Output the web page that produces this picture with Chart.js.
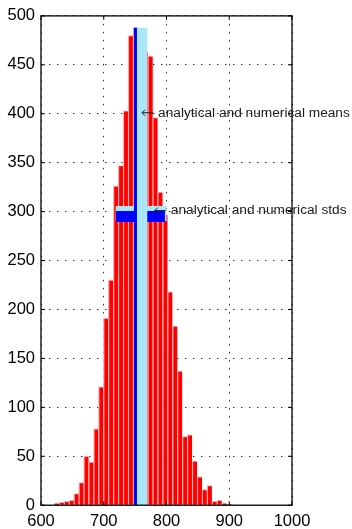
<!DOCTYPE html>
<html>
<head>
<meta charset="utf-8">
<script src="https://cdn.jsdelivr.net/npm/chart.js@4.4.0/dist/chart.umd.min.js"></script>
<style>
  html, body { margin: 0; padding: 0; background: #fff; overflow: hidden; }
  canvas { display: block; }
</style>
</head>
<body>
<canvas id="grafica" width="352" height="537"></canvas>
<script>
// histogram bins (centers) and counts
const binCenters = [624.8, 632.7, 640.5, 648.4, 656.2, 664.1, 671.9, 679.8, 687.7, 695.5,
  703.4, 711.2, 719.1, 726.9, 734.8, 742.7, 750.5, 758.4, 766.2, 774.1,
  781.9, 789.8, 797.7, 805.5, 813.4, 821.2, 829.1, 836.9, 844.8, 852.7,
  860.5, 868.4, 876.2, 884.1, 891.9, 899.8];
const counts = [2, 3, 4, 5, 12, 23, 50, 44, 78, 121,
  191, 230, 326, 347, 403, 480, 488, 478, 463, 459,
  396, 320, 297, 218, 183, 137, 70, 72, 45, 29,
  16, 20, 4, 5, 2, 1];

const xTicks = [600, 700, 800, 900, 1000];
const yTicks = [0, 50, 100, 150, 200, 250, 300, 350, 400, 450, 500];

const analyticalMean = 759.5;
const analyticalStd = 40.5;
const analyticalStdLevel = 298;
const numericalMean = 750.5;
const numericalStdSpan = [719.5, 797.5];
const numericalStdLevel = 295;
const meanTop = Math.max(...counts);

const labelMeans = "analytical and numerical means";
const labelStds = "analytical and numerical stds";
const labelMeansAt = [analyticalMean, 400];
const labelStdsAt = [analyticalMean + analyticalStd / 2, 300];

const rojo = "#ff0000";
const celeste = "#abe7fa";
const azul = "#0000ff";

const marco = {
  id: "marco",
  afterDatasetsDraw(chart) {
    const { ctx, chartArea: a, scales } = chart;
    const xs = scales.x, ys = scales.y;
    ctx.save();
    ctx.strokeStyle = "#000";
    ctx.lineWidth = 1.3;
    ctx.strokeRect(a.left, a.top, a.right - a.left, a.bottom - a.top);
    ctx.lineWidth = 1;
    ctx.beginPath();
    xTicks.forEach(v => {
      const px = xs.getPixelForValue(v);
      ctx.moveTo(px, a.bottom); ctx.lineTo(px, a.bottom - 4);
      ctx.moveTo(px, a.top); ctx.lineTo(px, a.top + 4);
    });
    yTicks.forEach(v => {
      const py = ys.getPixelForValue(v);
      ctx.moveTo(a.left, py); ctx.lineTo(a.left + 4, py);
      ctx.moveTo(a.right, py); ctx.lineTo(a.right - 4, py);
    });
    ctx.stroke();

    // annotations with a left arrow
    ctx.fillStyle = "#1a1a1a";
    ctx.strokeStyle = "#1a1a1a";
    ctx.font = '13.7px "Liberation Sans", Arial, sans-serif';
    ctx.textBaseline = "middle";
    ctx.textAlign = "left";
    [[labelMeansAt, labelMeans], [labelStdsAt, labelStds]].forEach(([pos, txt]) => {
      const x0 = xs.getPixelForValue(pos[0]);
      const y0 = ys.getPixelForValue(pos[1]) - 1;
      ctx.lineWidth = 1;
      ctx.beginPath();
      ctx.moveTo(x0 + 1, y0); ctx.lineTo(x0 + 12, y0);
      ctx.moveTo(x0 + 4, y0 - 3); ctx.lineTo(x0 + 1, y0); ctx.lineTo(x0 + 4, y0 + 3);
      ctx.stroke();
      ctx.fillText(txt, x0 + 17, y0);
    });
    ctx.restore();
  }
};

const linea = (pts, color, width, order) => ({
  type: "line",
  data: pts,
  borderColor: color,
  borderWidth: width,
  borderCapStyle: "butt",
  pointRadius: 0,
  fill: false,
  order: order,
});

const config = {
  type: "bar",
  data: {
    datasets: [
      {
        data: counts.map((c, i) => ({ x: binCenters[i], y: c })),
        backgroundColor: rojo,
        borderColor: "#ffb0b0",
        borderWidth: { left: 1.3, top: 1, right: 0, bottom: 0 },
        borderSkipped: false,
        barThickness: 4.94,
        order: 10,
      },
      linea([{ x: analyticalMean - analyticalStd, y: analyticalStdLevel },
             { x: analyticalMean + analyticalStd, y: analyticalStdLevel }], celeste, 15, 4),
      linea([{ x: numericalStdSpan[0], y: numericalStdLevel },
             { x: numericalStdSpan[1], y: numericalStdLevel }], azul, 11, 3),
      linea([{ x: analyticalMean, y: 0 }, { x: analyticalMean, y: meanTop }], celeste, 12.4, 2),
      linea([{ x: numericalMean, y: 0 }, { x: numericalMean, y: meanTop }], azul, 3, 1),
    ],
  },
  options: {
    responsive: false,
    animation: false,
    layout: { padding: { top: 14, right: 60, left: 0, bottom: 0 } },
    plugins: { legend: { display: false }, tooltip: { enabled: false } },
    scales: {
      x: {
        type: "linear",
        min: 600,
        max: 1000,
        offset: false,
        afterBuildTicks: (axis) => { axis.ticks = xTicks.map(v => ({ value: v })); },
        ticks: { color: "#000", padding: 6, maxRotation: 0, callback: (v) => String(v),
                 font: { family: "Liberation Sans", size: 16.5 } },
        grid: { color: "#333", lineWidth: 1, drawTicks: false, offset: false },
        border: { display: false, dash: [1.5, 6.5] },
      },
      y: {
        min: 0,
        max: 500,
        afterBuildTicks: (axis) => { axis.ticks = yTicks.map(v => ({ value: v })); },
        afterFit: (axis) => { axis.width = 41; },
        ticks: { color: "#000", padding: 6, callback: (v) => String(v),
                 font: { family: "Liberation Sans", size: 16.5 } },
        grid: { color: "#333", lineWidth: 1, drawTicks: false },
        border: { display: false, dash: [1.5, 6.5] },
      },
    },
  },
  plugins: [marco],
};

const grafica = new Chart(document.getElementById("grafica").getContext("2d"), config);
</script>
</body>
</html>
